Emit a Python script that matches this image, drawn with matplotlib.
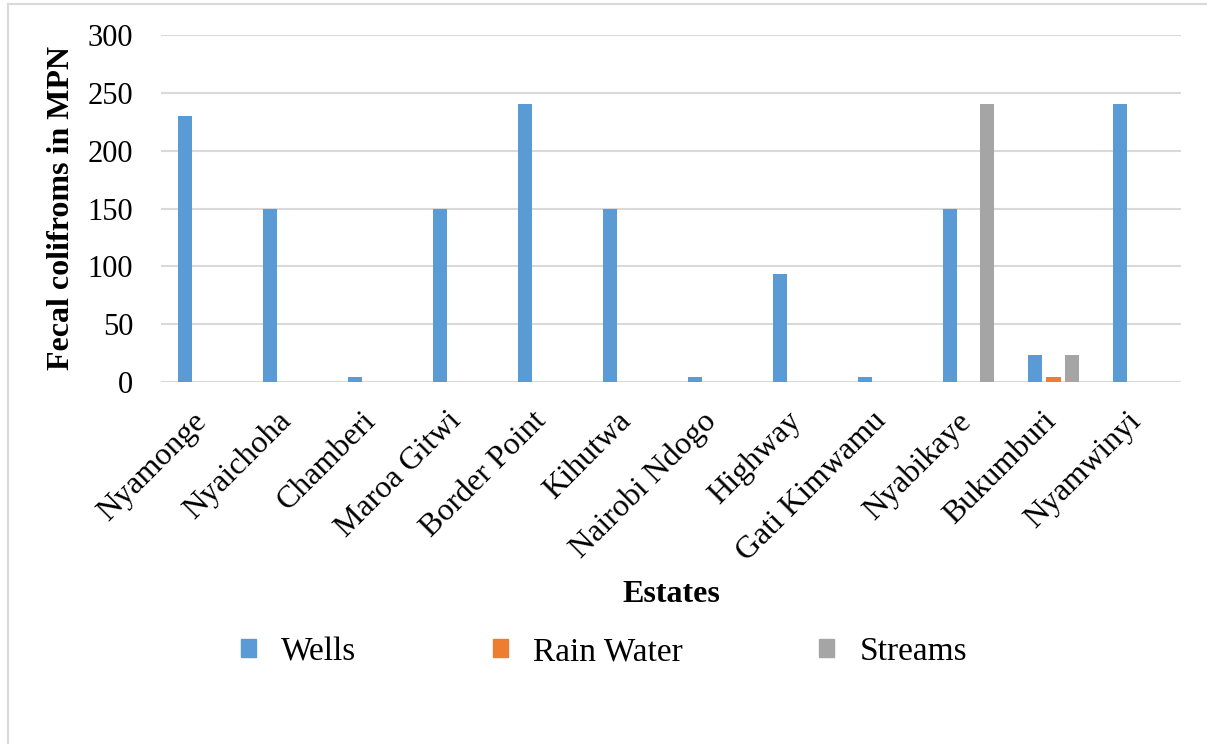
import matplotlib.pyplot as plt
import matplotlib.transforms as mtransforms
import numpy as np
from matplotlib.lines import Line2D

ESTATES = ["Nyamonge", "Nyaichoha", "Chamberi", "Maroa Gitwi", "Border Point", "Kihutwa",
           "Nairobi Ndogo", "Highway", "Gati Kimwamu", "Nyabikaye", "Bukumburi", "Nyamwinyi"]
WELLS = [230, 150, 4, 150, 240, 150, 4, 93, 4, 150, 23, 240]
RAIN_WATER = [0, 0, 0, 0, 0, 0, 0, 0, 0, 0, 4, 0]
STREAMS = [0, 0, 0, 0, 0, 0, 0, 0, 0, 240, 23, 0]
SERIES = [("Wells", WELLS, "#5B9BD5"), ("Rain Water", RAIN_WATER, "#ED7D31"),
          ("Streams", STREAMS, "#A5A5A5")]
Y_TICKS = [0, 50, 100, 150, 200, 250, 300]

plt.rcParams["font.family"] = ["Liberation Serif", "DejaVu Serif"]

W, H = 1207, 744
fig = plt.figure(figsize=(W / 100, H / 100), dpi=100)
ax = fig.add_axes([161 / W, 1 - 382 / H, (1181 - 161) / W, (382 - 35) / H])

x = np.arange(len(ESTATES))
step, width = 0.218, 0.172
for i, (name, vals, color) in enumerate(SERIES):
    ax.bar(x + (i - 1) * step, vals, width=width, color=color, label=name, zorder=3)

ax.set_xlim(-0.5, len(ESTATES) - 0.5)
ax.set_ylim(0, 300)
ax.set_yticks(Y_TICKS)
ax.grid(axis="y", color="#d9d9d9", linewidth=1.5, zorder=0)
ax.set_axisbelow(True)
for s in ax.spines.values():
    s.set_visible(False)
ax.tick_params(axis="y", length=0, pad=20, labelsize=22)
ax.tick_params(axis="x", length=0, pad=12, labelsize=23)
ax.set_xticks(x)
ax.set_xticklabels(ESTATES, rotation=45, ha="right", rotation_mode="anchor")
shift = mtransforms.ScaledTranslation(-0.12, -0.08, fig.dpi_scale_trans)
for lbl in ax.get_xticklabels():
    lbl.set_transform(lbl.get_transform() + shift)

fig.text(62 / W, 1 - 208 / H, "Fecal colifroms in MPN", rotation=90, ha="center",
         va="center", fontsize=23, fontweight="bold")
fig.text(671 / W, 1 - 594 / H, "Estates", ha="center", va="center", fontsize=23,
         fontweight="bold")

handles = [plt.Rectangle((0, 0), 1, 1, color=c) for _, _, c in SERIES]
fig.legend(handles, [n for n, _, _ in SERIES], loc="center", ncol=3, frameon=False,
           bbox_to_anchor=(604 / W, 1 - 652 / H), fontsize=24, handlelength=0.45,
           handleheight=0.45, handletextpad=0.75, columnspacing=4.1)

fig.add_artist(Line2D([8 / W, 8 / W], [0, 1 - 4 / H], color="#d9d9d9", linewidth=1.5))
fig.add_artist(Line2D([8 / W, 1], [1 - 4 / H, 1 - 4 / H], color="#d9d9d9", linewidth=1.5))

fig.savefig("out.png", dpi=100)
